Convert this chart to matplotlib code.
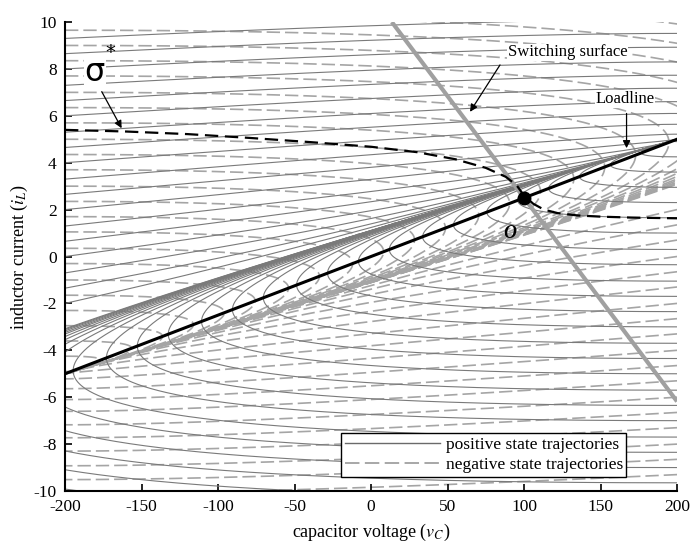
import numpy as np
import matplotlib.pyplot as plt
from matplotlib.lines import Line2D

plt.rcParams['font.family'] = ['Liberation Serif', 'DejaVu Serif']
plt.rcParams['mathtext.fontset'] = 'stix'
plt.rcParams['axes.unicode_minus'] = False

# converter parameters (only the ratios shape the state plane)
R_load = 40.0      # load resistance
V_src = 200.0      # source voltage, +V for positive state, -V for negative
c_over_l = 1.1e-4  # C/L

# initial inductor currents of the positive trajectories
# (entering at v = -200 and at v = +200); negative ones are the mirror image
pos_left_i0 = [9.3, 8.65, 8.0, 7.3, 6.65, 6.0, 5.3, 4.65, 4.0, 3.3, 2.65,
               2.0, 1.3, 0.65, 0.0, -0.7, -1.35, -2.0]
pos_right_i0 = [4.9, 4.25, 3.6, 2.95, 2.3, 1.65, 1.0, 0.3, -0.35, -1.05,
                -1.7, -2.35, -3.0, -3.7, -4.35, -5.0, -5.7, -6.35, -7.0,
                -7.7, -8.35, -9.0, -9.65, -10.3, -11.0, -11.6, -12.3,
                -13.0, -13.6]

loadline_v = [-200, 200]
loadline_i = [-5, 5]

op_v, op_i = 100.0, 2.5     # operating point O
sw_slope = -0.0868          # switching surface through O

sigma_v = [-200, -160, -120, -80, -40, 0, 30, 55, 75, 88, 95, 100, 106,
           113, 122, 135, 150, 170, 200]
sigma_i = [5.40, 5.33, 5.22, 5.06, 4.88, 4.68, 4.45, 4.15, 3.78, 3.40, 3.05,
           2.60, 2.25, 2.0, 1.85, 1.75, 1.70, 1.66, 1.63]

A = np.array([[-1.0 / R_load, 1.0], [-c_over_l, 0.0]])
w, V = np.linalg.eig(A)
t = np.linspace(0, 1600, 6000)


def trajectory(v0, i0, u):
    center = np.array([u, u / R_load])
    coef = np.linalg.solve(V, np.array([v0, i0]) - center)
    x = (V @ (coef[:, None] * np.exp(np.outer(w, t)))).real
    return x[0] + center[0], x[1] + center[1]


fig = plt.figure(figsize=(6.91, 5.46), dpi=100)
ax = fig.add_axes([0.0941, 0.1007, 0.8857, 0.859])

pos_style = dict(color='#7a7a7a', lw=0.8, zorder=2)
neg_style = dict(color='#a5a5a5', lw=1.2, dashes=(8, 3), zorder=1)

for i0 in pos_left_i0:
    vv, ii = trajectory(-V_src, i0, V_src)
    ax.plot(vv, ii, **pos_style)
    vv, ii = trajectory(V_src, -i0, -V_src)
    ax.plot(vv, ii, **neg_style)
for i0 in pos_right_i0:
    vv, ii = trajectory(V_src, i0, V_src)
    ax.plot(vv, ii, **pos_style)
    vv, ii = trajectory(-V_src, -i0, -V_src)
    ax.plot(vv, ii, **neg_style)

# switching surface
sw_top = op_v + (10 - op_i) / sw_slope
sw_v = np.array([sw_top, 200.0])
ax.plot(sw_v, op_i + sw_slope * (sw_v - op_v), color='#a0a0a0', lw=3,
        zorder=4, solid_capstyle='butt')

# sigma* curve and loadline
ax.plot(sigma_v, sigma_i, color='black', lw=1.6, dashes=(6, 3), zorder=5)
ax.plot(loadline_v, loadline_i, color='black', lw=2.2, zorder=6)
ax.plot(op_v, op_i, 'o', color='black', ms=9, zorder=7)
ax.text(91, 1.0, 'O', fontsize=13, style='italic', weight='bold',
        ha='center', va='center', zorder=8)

wbox = dict(fc='white', ec='none', pad=0.5)
ax.text(-180.5, 7.85, 'σ', fontsize=23, family=['DejaVu Sans'],
        ha='center', va='center', bbox=wbox, zorder=8)
ax.text(-170.5, 8.7, '*', fontsize=14, family=['DejaVu Sans'],
        ha='center', va='center', zorder=8)
ax.annotate('', xy=(-163, 5.47), xytext=(-176, 7.03), zorder=8,
            arrowprops=dict(arrowstyle='-|>', color='black', lw=0.9,
                            mutation_scale=11, shrinkA=0, shrinkB=0))

ax.text(128.5, 8.7, 'Switching surface', fontsize=12, ha='center',
        va='center', bbox=wbox, zorder=8)
ax.annotate('', xy=(64.7, 6.17), xytext=(84.3, 8.17), zorder=8,
            arrowprops=dict(arrowstyle='-|>', color='black', lw=0.9,
                            mutation_scale=11, shrinkA=0, shrinkB=0))

ax.text(166, 6.72, 'Loadline', fontsize=12, ha='center', va='center',
        bbox=wbox, zorder=8)
ax.annotate('', xy=(167, 4.62), xytext=(167, 6.1), zorder=8,
            arrowprops=dict(arrowstyle='-|>', color='black', lw=0.9,
                            mutation_scale=11, shrinkA=0, shrinkB=0))

ax.set_xlim(-200, 200)
ax.set_ylim(-10, 10)
ax.set_xticks(np.arange(-200, 201, 50))
ax.set_yticks(np.arange(-10, 11, 2))
ax.spines['top'].set_visible(False)
ax.spines['right'].set_visible(False)
for s in ('left', 'bottom'):
    ax.spines[s].set_linewidth(1.5)
ax.tick_params(direction='in', length=5, width=1.2, labelsize=12.5, pad=6)

ax.set_xlabel('capacitor voltage ($v_C$)', fontsize=13)
ax.set_ylabel('inductor current ($i_L$)', fontsize=13)
ax.xaxis.set_label_coords(0.5, -0.066)
ax.yaxis.set_label_coords(-0.058, 0.5)

handles = [Line2D([], [], color='#6a6a6a', lw=1.0),
           Line2D([], [], color='#a0a0a0', lw=1.3, dashes=(8, 3))]
leg = ax.legend(handles, ['positive state trajectories',
                          'negative state trajectories'],
                loc='lower right', bbox_to_anchor=(0.917, 0.030),
                fontsize=12.5, handlelength=5.5, handletextpad=0.3,
                borderpad=0.2, labelspacing=0.25, borderaxespad=0,
                fancybox=False, framealpha=1, edgecolor='black')
leg.get_frame().set_linewidth(1.0)
leg.set_zorder(10)

fig.savefig('out.png', dpi=100)
